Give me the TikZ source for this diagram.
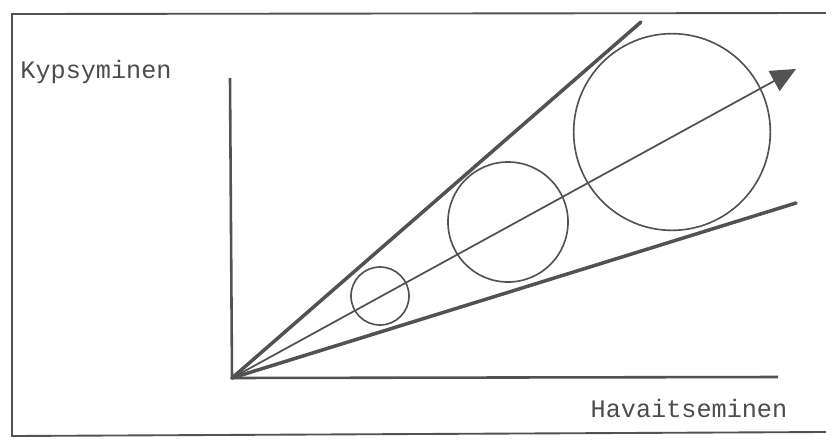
\documentclass[tikz,border=0pt]{standalone}
\usepackage{fontspec}
\setmonofont{Liberation Mono}
\usetikzlibrary{arrows.meta}
\begin{document}
\begin{tikzpicture}[x=0.03cm,y=-0.03cm,
  ink/.style={draw=black!68},
  ring/.style={circle,ink,line width=1.4pt,inner sep=0pt},
  lbl/.style={font=\ttfamily\fontsize{21.5}{25}\selectfont,text=black!70}]
\useasboundingbox (0,0) rectangle (826,440);
\draw[ink,line width=1.6pt] (826,13)--(12,14)--(12,436)--(826,432);
\coordinate (O) at (232,378);
\coordinate (ytop) at (230,78);
\coordinate (xend) at (778,377);
\coordinate (up) at (641,22);
\coordinate (lo) at (796,203);
\coordinate (tip) at (796,69);
\draw[ink,line width=2.2pt] (ytop)--(O)--(xend);
\foreach \e in {up,lo} {\draw[ink,line width=3pt,line cap=round] (O)--(\e);}
\draw[ink,line width=1.5pt,-{Triangle[length=0.75cm,width=0.68cm]}] (O)--(tip);
\node[ring,minimum size=1.74cm] (small) at (380,296) {};
\node[ring,minimum size=3.6cm] (mid) at (508,222) {};
\node[ring,minimum size=5.9cm] (big) at (672,132) {};
\node[lbl] (kyps) at (96,72) {Kypsyminen};
\node[lbl] (hav) at (689,408) {Havaitseminen};
\end{tikzpicture}
\end{document}
